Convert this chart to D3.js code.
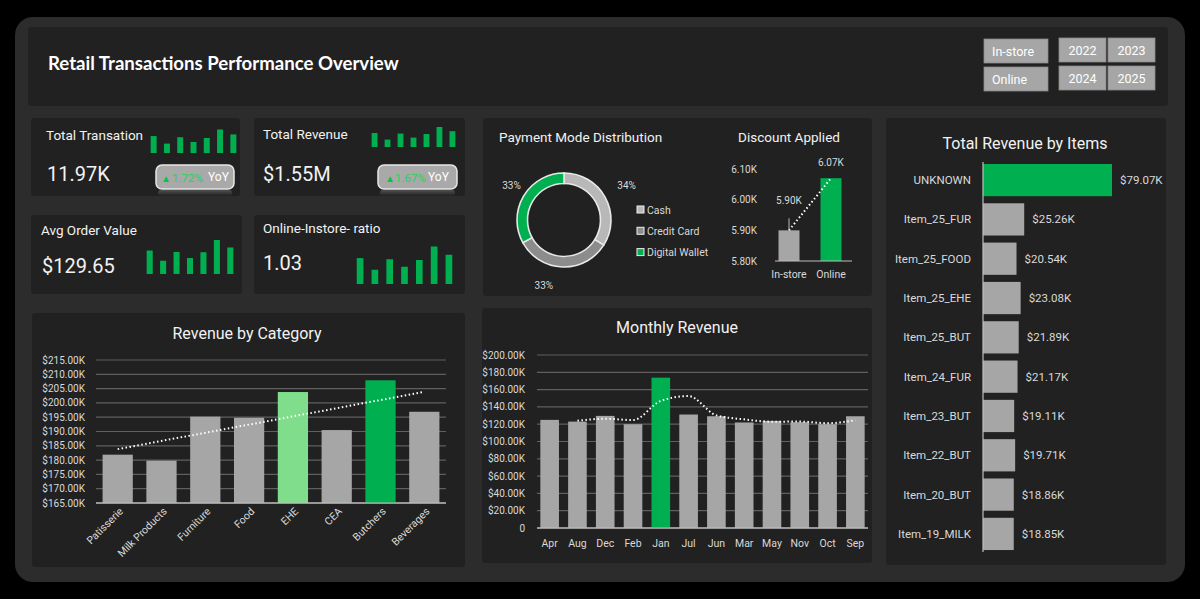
<!DOCTYPE html>
<html><head><meta charset="utf-8">
<script src="https://cdn.jsdelivr.net/npm/d3@7"></script>
<style>
html,body{margin:0;padding:0;background:#000;}
svg{display:block;}
text{font-family:Roboto, "Noto Sans", sans-serif;}
</style></head>
<body>
<svg id="chart" width="1200" height="599"></svg>
<script>
// ---------------- DATA ----------------
const dashboardTitle = "Retail Transactions Performance Overview";
const channelButtons = ["In-store", "Online"];
const yearButtons = ["2022", "2023", "2024", "2025"];

const kpiTitles = ["Total Transation", "Total Revenue", "Avg Order Value", "Online-Instore- ratio"];
const kpiValues = ["11.97K", "$1.55M", "$129.65", "1.03"];
const kpiYoY = ["1.72%", "1.67%"];
const sparkTransactions = [72, 40, 67, 47, 64, 100, 79];
const sparkRevenue = [70, 37, 67, 47, 65, 100, 79];
const sparkAOV = [69, 39, 65, 47, 64, 100, 78];
const sparkRatio = [69, 38, 66, 46, 64, 100, 78];

const paymentModes = ["Cash", "Credit Card", "Digital Wallet"];
const paymentShare = [34, 33, 33];

const discountChannels = ["In-store", "Online"];
const discountValues = [5.90, 6.07];           // thousands
const discountTicks = [5.80, 5.90, 6.00, 6.10];

const itemNames = ["UNKNOWN", "Item_25_FUR", "Item_25_FOOD", "Item_25_EHE", "Item_25_BUT",
  "Item_24_FUR", "Item_23_BUT", "Item_22_BUT", "Item_20_BUT", "Item_19_MILK"];
const itemRevenue = [79.07, 25.26, 20.54, 23.08, 21.89, 21.17, 19.11, 19.71, 18.86, 18.85]; // $K

const categories = ["Patisserie", "Milk Products", "Furniture", "Food", "EHE", "CEA", "Butchers", "Beverages"];
const categoryRevenue = [181.9, 179.8, 195.2, 194.8, 203.8, 190.5, 207.9, 196.9]; // $K
const categoryTicks = [165, 170, 175, 180, 185, 190, 195, 200, 205, 210, 215];

const months = ["Apr", "Aug", "Dec", "Feb", "Jan", "Jul", "Jun", "Mar", "May", "Nov", "Oct", "Sep"];
const monthlyRevenue = [125.0, 123.0, 129.6, 120.0, 173.8, 131.2, 129.2, 122.0, 123.8, 122.3, 120.0, 129.2]; // $K
const monthlyTicks = [0, 20, 40, 60, 80, 100, 120, 140, 160, 180, 200];

// ---------------- STYLE ----------------
const C = {
  outer: "#2c2c2c", panel: "#212121", text: "#f2f2f2", sub: "#d9d9d9",
  gray: "#a6a6a6", green: "#00b050", light: "#7fdd8c", grid: "#5f5f5f", axis: "#bfbfbf",
  btn: "#a6a6a6", cash: "#b8b8b8", card: "#8c8c8c"
};

const svg = d3.select("#chart");
svg.append("rect").attr("x", 0).attr("y", 0).attr("width", 1200).attr("height", 599).attr("fill", "#000");
svg.append("rect").attr("x", 15).attr("y", 17).attr("width", 1170).attr("height", 565).attr("rx", 18).attr("fill", C.outer);

function panel(x, y, w, h) {
  svg.append("rect").attr("x", x).attr("y", y).attr("width", w).attr("height", h).attr("rx", 3).attr("fill", C.panel);
}

// ---------------- HEADER ----------------
panel(28, 27, 1140, 79);
svg.append("text").attr("x", 48).attr("y", 70).text(dashboardTitle)
  .attr("fill", "#fff").style("font-family", "Lato, sans-serif").style("font-weight", 700).style("font-size", "18.6px");

const btnG = svg.append("g");
channelButtons.forEach((b, i) => {
  const y = 39 + i * 28;
  btnG.append("rect").attr("x", 984).attr("y", y).attr("width", 64).attr("height", 24).attr("fill", C.btn)
    .attr("stroke", "#8a8a8a").attr("stroke-width", 0.8);
  btnG.append("text").attr("x", 992).attr("y", y + 17).text(b).attr("fill", "#fff").style("font-size", "12.5px");
});
yearButtons.forEach((b, i) => {
  const x = 1059 + (i % 2) * 49, y = 38 + Math.floor(i / 2) * 28;
  btnG.append("rect").attr("x", x).attr("y", y).attr("width", 47).attr("height", 24).attr("fill", C.btn)
    .attr("stroke", "#8a8a8a").attr("stroke-width", 0.8);
  btnG.append("text").attr("x", x + 23.5).attr("y", y + 17).attr("text-anchor", "middle").text(b)
    .attr("fill", "#fff").style("font-size", "12.5px");
});

// ---------------- KPI CARDS ----------------
const kpiBoxes = [
  {x: 31, y: 118, w: 209, h: 78, tx: 46, ty: 140, vx: 47, vy: 181, sx0: 150, sx1: 237, sb: 153, sh: 23.5, spark: sparkTransactions},
  {x: 254, y: 118, w: 211, h: 78, tx: 263, ty: 139, vx: 263, vy: 181, sx0: 371, sx1: 456, sb: 147, sh: 20, spark: sparkRevenue},
  {x: 31, y: 215, w: 211, h: 79, tx: 41, ty: 235, vx: 42, vy: 273, sx0: 146, sx1: 234, sb: 274, sh: 34, spark: sparkAOV},
  {x: 254, y: 215, w: 211, h: 79, tx: 263, ty: 233, vx: 263, vy: 270, sx0: 356, sx1: 453, sb: 284, sh: 37.5, spark: sparkRatio}
];
kpiBoxes.forEach((b, i) => {
  panel(b.x, b.y, b.w, b.h);
  svg.append("text").attr("x", b.tx).attr("y", b.ty).text(kpiTitles[i]).attr("fill", C.text).style("font-size", "13.5px");
  svg.append("text").attr("x", b.vx).attr("y", b.vy).text(kpiValues[i]).attr("fill", C.text).style("font-size", "20px");
  const xs = d3.scaleBand().domain(d3.range(b.spark.length)).range([b.sx0, b.sx1]).paddingInner(0.55).paddingOuter(0.05);
  const ys = d3.scaleLinear().domain([0, d3.max(b.spark)]).range([0, b.sh]);
  svg.append("g").selectAll("rect").data(b.spark).join("rect")
    .attr("x", (d, j) => xs(j)).attr("width", xs.bandwidth())
    .attr("y", d => b.sb - ys(d)).attr("height", d => ys(d)).attr("fill", C.green);
});

// YoY badges
const defs = svg.append("defs");
const refl = defs.append("linearGradient").attr("id", "refl").attr("x1", 0).attr("y1", 0).attr("x2", 0).attr("y2", 1);
refl.append("stop").attr("offset", "0%").attr("stop-color", "#777").attr("stop-opacity", 0.55);
refl.append("stop").attr("offset", "100%").attr("stop-color", "#777").attr("stop-opacity", 0);
[{x: 156, y: 165, w: 78, h: 24, tri: 161, pct: 172, yoy: 208}, {x: 378, y: 165, w: 79, h: 24, tri: 385, pct: 395, yoy: 428}]
.forEach((b, i) => {
  svg.append("rect").attr("x", b.x + 2).attr("y", b.y + b.h + 1).attr("width", b.w - 4).attr("height", 6).attr("rx", 3).attr("fill", "url(#refl)");
  svg.append("rect").attr("x", b.x).attr("y", b.y).attr("width", b.w).attr("height", b.h).attr("rx", 6)
    .attr("fill", "#a9a9a9").attr("stroke", "#e6e6e6").attr("stroke-width", 1.5);
  svg.append("text").attr("x", b.tri).attr("y", b.y + 17).text("▲").attr("fill", "#00c843").style("font-size", "10px");
  svg.append("text").attr("x", b.pct).attr("y", b.y + 17).text(kpiYoY[i]).attr("fill", "#22d455").style("font-size", "11.5px");
  svg.append("text").attr("x", b.yoy).attr("y", b.y + 16).text("YoY").attr("fill", "#fff").style("font-size", "12px");
});

// ---------------- PAYMENT + DISCOUNT ----------------
panel(483, 118, 389, 178);
svg.append("text").attr("x", 499).attr("y", 142).text("Payment Mode Distribution").attr("fill", C.text).style("font-size", "13.5px");
const payColors = d3.scaleOrdinal().domain(paymentModes).range([C.cash, C.card, C.green]);
const pie = d3.pie().sort(null).value(d => d.v);
const arcs = pie(paymentModes.map((m, i) => ({m, v: paymentShare[i]})));
const arc = d3.arc().innerRadius(36.5).outerRadius(47);
const dg = svg.append("g").attr("transform", "translate(564,220)");
dg.selectAll("path").data(arcs).join("path").attr("d", arc)
  .attr("fill", d => payColors(d.data.m)).attr("stroke", "#e8e8e8").attr("stroke-width", 1.6);
const labelArc = d3.arc().innerRadius(68).outerRadius(68);
const labelNudge = [[3, -2], [-18, -3], [6, 0]];
dg.selectAll("text.pl").data(arcs).join("text").attr("class", "pl")
  .attr("x", d => labelArc.centroid(d)[0] + labelNudge[d.index][0])
  .attr("y", d => labelArc.centroid(d)[1] + labelNudge[d.index][1] + 4)
  .attr("text-anchor", "middle").text(d => d.data.v + "%").attr("fill", C.sub).style("font-size", "10px");
const lg = svg.append("g");
paymentModes.forEach((m, i) => {
  const y = 210 + i * 21.3;
  lg.append("rect").attr("x", 637).attr("y", y - 4).attr("width", 7).attr("height", 7).attr("fill", payColors(m)).attr("stroke", "#eee").attr("stroke-width", 1);
  lg.append("text").attr("x", 647).attr("y", y + 3.5).text(m).attr("fill", C.sub).style("font-size", "10.5px");
});

svg.append("text").attr("x", 789).attr("y", 142).attr("text-anchor", "middle").text("Discount Applied").attr("fill", C.text).style("font-size", "13.5px");
const dx = d3.scaleBand().domain(discountChannels).range([768, 852]).paddingInner(0.5).paddingOuter(0.25);
const dy = d3.scaleLinear().domain([5.80, 6.10]).range([261, 169]);
svg.append("g").selectAll("text").data(discountTicks).join("text")
  .attr("x", 757).attr("y", d => dy(d) + 3.5).attr("text-anchor", "end").text(d => d.toFixed(2) + "K")
  .attr("fill", C.sub).style("font-size", "10px");
svg.append("g").selectAll("rect").data(discountValues).join("rect")
  .attr("x", (d, i) => dx(discountChannels[i])).attr("width", dx.bandwidth())
  .attr("y", d => dy(d)).attr("height", d => dy(5.80) - dy(d))
  .attr("fill", (d, i) => i === 1 ? C.green : C.gray);
svg.append("line").attr("x1", 775).attr("x2", 852).attr("y1", dy(5.80)).attr("y2", dy(5.80)).attr("stroke", C.axis).attr("stroke-width", 1);
svg.append("line")
  .attr("x1", dx(discountChannels[0]) + dx.bandwidth() / 2).attr("y1", dy(discountValues[0]))
  .attr("x2", dx(discountChannels[1]) + dx.bandwidth() / 2).attr("y2", dy(discountValues[1]))
  .attr("stroke", "#fff").attr("stroke-width", 2).attr("stroke-dasharray", "1.5,2.5");
svg.append("line").attr("x1", dx(discountChannels[0]) + dx.bandwidth() / 2).attr("x2", dx(discountChannels[0]) + dx.bandwidth() / 2)
  .attr("y1", dy(discountValues[0]) - 12).attr("y2", dy(discountValues[0])).attr("stroke", "#bbb").attr("stroke-width", 1);
svg.append("g").selectAll("text").data(discountValues).join("text")
  .attr("x", (d, i) => dx(discountChannels[i]) + dx.bandwidth() / 2)
  .attr("y", (d, i) => i === 0 ? dy(d) - 26 : dy(d) - 12)
  .attr("text-anchor", "middle").text(d => d.toFixed(2) + "K").attr("fill", C.sub).style("font-size", "10px");
svg.append("g").selectAll("text").data(discountChannels).join("text")
  .attr("x", d => dx(d) + dx.bandwidth() / 2).attr("y", 278).attr("text-anchor", "middle").text(d => d)
  .attr("fill", C.sub).style("font-size", "10.5px");

// ---------------- ITEMS ----------------
panel(886, 118, 280, 447);
svg.append("text").attr("x", 1025).attr("y", 149).attr("text-anchor", "middle").text("Total Revenue by Items").attr("fill", C.text).style("font-size", "16px");
const iy = d3.scaleBand().domain(itemNames).range([162, 552]).paddingInner(0.18).paddingOuter(0.05);
const ix = d3.scaleLinear().domain([0, 79.07]).range([983, 1112]);
const maxItem = d3.max(itemRevenue);
svg.append("g").selectAll("rect").data(itemRevenue).join("rect")
  .attr("x", ix(0)).attr("y", (d, i) => iy(itemNames[i])).attr("height", iy.bandwidth())
  .attr("width", d => ix(d) - ix(0)).attr("fill", d => d === maxItem ? C.green : C.gray);
svg.append("line").attr("x1", 983).attr("x2", 983).attr("y1", 162).attr("y2", 552).attr("stroke", C.axis).attr("stroke-width", 1.2);
svg.append("g").selectAll("text").data(itemNames).join("text")
  .attr("x", 971).attr("y", d => iy(d) + iy.bandwidth() / 2 + 4).attr("text-anchor", "end").text(d => d)
  .attr("fill", C.sub).style("font-size", "11.5px");
svg.append("g").selectAll("text").data(itemRevenue).join("text")
  .attr("y", (d, i) => iy(itemNames[i]) + iy.bandwidth() / 2 + 4)
  .text(d => "$" + d.toFixed(2) + "K").attr("fill", C.sub).style("font-size", "11.5px")
  .attr("x", function(d) { const w = this.getComputedTextLength(); return Math.min(ix(d) + 8, 1163 - w); });

// ---------------- CATEGORY ----------------
panel(32, 313, 433, 254);
svg.append("text").attr("x", 247).attr("y", 339).attr("text-anchor", "middle").text("Revenue by Category").attr("fill", C.text).style("font-size", "16px");
const cx = d3.scaleBand().domain(categories).range([96, 446]).paddingInner(0.31).paddingOuter(0.15);
const cy = d3.scaleLinear().domain([165, 215]).range([503, 360]);
const cg = svg.append("g");
cg.selectAll("line.g").data(categoryTicks).join("line").attr("class", "g")
  .attr("x1", 96).attr("x2", 446).attr("y1", d => cy(d)).attr("y2", d => cy(d))
  .attr("stroke", d => d === 165 ? C.axis : C.grid).attr("stroke-width", 1.2);
cg.selectAll("text.t").data(categoryTicks).join("text").attr("class", "t")
  .attr("x", 85).attr("y", d => cy(d) + 3.5).attr("text-anchor", "end").text(d => "$" + d.toFixed(2) + "K")
  .attr("fill", C.sub).style("font-size", "10px");
const catSorted = categoryRevenue.slice().sort((a, b) => b - a);
cg.selectAll("rect").data(categoryRevenue).join("rect")
  .attr("x", (d, i) => cx(categories[i])).attr("width", cx.bandwidth())
  .attr("y", d => cy(d)).attr("height", d => cy(165) - cy(d))
  .attr("fill", d => d === catSorted[0] ? C.green : d === catSorted[1] ? C.light : C.gray);
cg.append("line").attr("x1", 96).attr("x2", 446).attr("y1", cy(165)).attr("y2", cy(165)).attr("stroke", C.axis).attr("stroke-width", 1.2);
const n = categoryRevenue.length, xm = (n - 1) / 2, ym = d3.mean(categoryRevenue);
const slope = d3.sum(categoryRevenue, (v, i) => (i - xm) * (v - ym)) / d3.sum(categoryRevenue, (v, i) => (i - xm) * (i - xm));
const trend = i => ym + slope * (i - xm);
cg.append("line")
  .attr("x1", cx(categories[0]) + cx.bandwidth() / 2).attr("y1", cy(trend(0)))
  .attr("x2", cx(categories[n - 1]) + cx.bandwidth() / 2).attr("y2", cy(trend(n - 1)))
  .attr("stroke", "#fff").attr("stroke-width", 2).attr("stroke-dasharray", "1.5,2.5");
cg.selectAll("text.x").data(categories).join("text").attr("class", "x")
  .attr("transform", d => `translate(${cx(d) + cx.bandwidth() / 2 + 6},${512}) rotate(-45)`)
  .attr("text-anchor", "end").text(d => d).attr("fill", C.sub).style("font-size", "10.5px");

// ---------------- MONTHLY ----------------
panel(482, 308, 390, 255);
svg.append("text").attr("x", 677).attr("y", 333).attr("text-anchor", "middle").text("Monthly Revenue").attr("fill", C.text).style("font-size", "16px");
const mx = d3.scaleBand().domain(months).range([537, 868]).paddingInner(0.33).paddingOuter(0.12);
const my = d3.scaleLinear().domain([0, 200]).range([528, 355]);
const mg = svg.append("g");
mg.selectAll("line.g").data(monthlyTicks).join("line").attr("class", "g")
  .attr("x1", 537).attr("x2", 868).attr("y1", d => my(d)).attr("y2", d => my(d))
  .attr("stroke", d => d === 0 ? C.axis : C.grid).attr("stroke-width", 1.2);
mg.selectAll("text.t").data(monthlyTicks).join("text").attr("class", "t")
  .attr("x", 525).attr("y", d => my(d) + 3.5).attr("text-anchor", "end")
  .text(d => d === 0 ? "0" : "$" + d.toFixed(2) + "K").attr("fill", C.sub).style("font-size", "10px");
const maxMonth = d3.max(monthlyRevenue);
mg.selectAll("rect").data(monthlyRevenue).join("rect")
  .attr("x", (d, i) => mx(months[i])).attr("width", mx.bandwidth())
  .attr("y", d => my(d)).attr("height", d => my(0) - my(d))
  .attr("fill", d => d === maxMonth ? C.green : C.gray);
mg.append("line").attr("x1", 537).attr("x2", 868).attr("y1", my(0)).attr("y2", my(0)).attr("stroke", C.axis).attr("stroke-width", 1.2);
const ma = monthlyRevenue.map((v, i) => i === 0 ? null : (v + monthlyRevenue[i - 1]) / 2);
const maPts = ma.map((v, i) => v === null ? null : [mx(months[i]) + mx.bandwidth() / 2, my(v)]).filter(p => p);
mg.append("path").attr("d", d3.line().curve(d3.curveMonotoneX)(maPts))
  .attr("fill", "none").attr("stroke", "#fff").attr("stroke-width", 2).attr("stroke-dasharray", "1.5,2.5");
mg.selectAll("text.x").data(months).join("text").attr("class", "x")
  .attr("x", d => mx(d) + mx.bandwidth() / 2).attr("y", 547).attr("text-anchor", "middle").text(d => d)
  .attr("fill", C.sub).style("font-size", "10.5px");
</script>
</body></html>
